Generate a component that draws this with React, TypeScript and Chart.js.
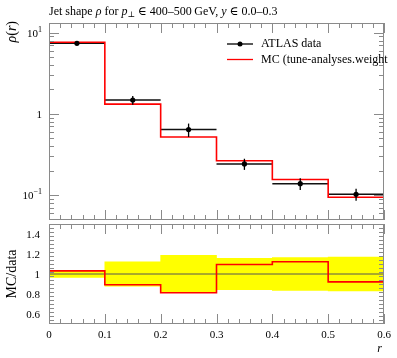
import { useEffect, useRef } from 'react';
import { Chart, registerables } from 'chart.js';

Chart.register(...registerables);

// ---- data ----
const binEdges = [0, 0.1, 0.2, 0.3, 0.4, 0.5, 0.6];
const dataValues = [7.42, 1.48, 0.64, 0.242, 0.138, 0.102];
const dataErrors = [0.26, 0.18, 0.12, 0.038, 0.0225, 0.0173];
const mcValues = [7.65, 1.32, 0.52, 0.265, 0.155, 0.094];
const xTickValues = [0, 0.1, 0.2, 0.3, 0.4, 0.5, 0.6];
const xTickLabels = ['0', '0.1', '0.2', '0.3', '0.4', '0.5', '0.6'];
const mainTickValues = [0.1, 1, 10];
const mainTickBase = ['10', '1', '10'];
const mainTickExp = ['\u22121', '', '1'];
const ratioTickValues = [0.6, 0.8, 1.0, 1.2, 1.4];
const ratioTickLabels = ['0.6', '0.8', '1', '1.2', '1.4'];

const FRAME = '#8a8a8a';
const SERIF = '"Liberation Serif", "DejaVu Serif", serif';
const TICKFONT = `11px ${SERIF}`;

const W = 397;
const PLOT_LEFT = 49;
const PLOT_RIGHT = 384;
const MAIN_TOP = 23;
const SPLIT = 224;
const RATIO_BOTTOM = 324;
const H = 358;

type Seg = { t: string; font: string; dy?: number };

function drawSegs(ctx: CanvasRenderingContext2D, segs: Seg[], x: number, y: number) {
  let cx = x;
  for (const s of segs) {
    ctx.font = s.font;
    ctx.fillText(s.t, cx, y + (s.dy || 0));
    cx += ctx.measureText(s.t).width;
  }
  return cx;
}
function segsWidth(ctx: CanvasRenderingContext2D, segs: Seg[]) {
  let w = 0;
  for (const s of segs) {
    ctx.font = s.font;
    w += ctx.measureText(s.t).width;
  }
  return w;
}

function line(ctx: CanvasRenderingContext2D, x1: number, y1: number, x2: number, y2: number) {
  ctx.beginPath();
  ctx.moveTo(x1, y1);
  ctx.lineTo(x2, y2);
  ctx.stroke();
}

function drawXTicks(chart: any, top: boolean, bottom: boolean) {
  const { ctx, chartArea: a, scales } = chart;
  const xs = scales.x;
  for (let i = 0; i <= 30; i++) {
    const v = i * 0.02;
    const px = Math.round(xs.getPixelForValue(v)) + 0.5;
    const len = i % 5 === 0 ? 10 : 5;
    if (top) line(ctx, px, a.top, px, a.top + len);
    if (bottom) line(ctx, px, a.bottom, px, a.bottom - len);
  }
}

function drawYTick(chart: any, v: number, len: number) {
  const { ctx, chartArea: a, scales } = chart;
  const py = Math.round(scales.y.getPixelForValue(v)) + 0.5;
  if (py < a.top || py > a.bottom) return;
  line(ctx, a.left, py, a.left + len, py);
  line(ctx, a.right, py, a.right - len, py);
}

const mainDecorations = {
  id: 'mainDecorations',
  afterDatasetsDraw(chart: any) {
    const { ctx, chartArea: a, scales } = chart;
    ctx.save();
    // error bars
    ctx.strokeStyle = '#000';
    ctx.lineWidth = 1.3;
    for (let i = 0; i < dataValues.length; i++) {
      const cx = scales.x.getPixelForValue((binEdges[i] + binEdges[i + 1]) / 2);
      line(ctx, cx, scales.y.getPixelForValue(dataValues[i] - dataErrors[i]), cx, scales.y.getPixelForValue(dataValues[i] + dataErrors[i]));
    }
    // frame
    ctx.strokeStyle = FRAME;
    ctx.lineWidth = 1;
    ctx.strokeRect(a.left + 0.5, a.top + 0.5, a.right - a.left - 1, a.bottom - a.top - 1);
    drawXTicks(chart, true, true);
    const decades = [0.01, 0.1, 1, 10];
    for (const d of decades) {
      for (let k = 1; k <= 9; k++) drawYTick(chart, k * d, k === 1 ? 10 : 5);
    }
    // y tick labels
    ctx.fillStyle = '#000';
    ctx.textBaseline = 'middle';
    for (let i = 0; i < mainTickValues.length; i++) {
      const py = scales.y.getPixelForValue(mainTickValues[i]);
      const segs: Seg[] = [{ t: mainTickBase[i], font: TICKFONT }];
      if (mainTickExp[i]) segs.push({ t: mainTickExp[i], font: `8px ${SERIF}`, dy: -4 });
      const w = segsWidth(ctx, segs);
      drawSegs(ctx, segs, 42 - w, py + 1);
    }
    // y axis label rho(r), rotated
    ctx.save();
    ctx.translate(16, 21);
    ctx.rotate(-Math.PI / 2);
    ctx.textBaseline = 'alphabetic';
    const ylab: Seg[] = [
      { t: '\u03C1', font: `italic 14px ${SERIF}` },
      { t: '(', font: `14px ${SERIF}` },
      { t: 'r', font: `italic 14px ${SERIF}` },
      { t: ')', font: `14px ${SERIF}` },
    ];
    const yw = segsWidth(ctx, ylab);
    drawSegs(ctx, ylab, -yw, 0);
    ctx.restore();
    // title
    ctx.textBaseline = 'alphabetic';
    const F = `12px ${SERIF}`;
    const FI = `italic 12px ${SERIF}`;
    drawSegs(ctx, [
      { t: 'Jet shape ', font: F },
      { t: '\u03C1', font: FI },
      { t: ' for ', font: F },
      { t: 'p', font: FI },
      { t: '\u22A5', font: `8px ${SERIF}`, dy: 2 },
      { t: ' \u2208 400\u2013500\u2009GeV, ', font: F },
      { t: 'y', font: FI },
      { t: ' \u2208 0.0\u20130.3', font: F },
    ], 49, 15);
    // legend
    ctx.textBaseline = 'middle';
    ctx.lineWidth = 1.3;
    ctx.strokeStyle = '#000';
    line(ctx, 227, 44, 253, 44);
    ctx.beginPath();
    ctx.arc(240, 44, 2.5, 0, Math.PI * 2);
    ctx.fill();
    ctx.strokeStyle = '#ff0000';
    line(ctx, 227, 59.5, 253, 59.5);
    ctx.font = F;
    ctx.fillText('ATLAS data', 261, 44);
    ctx.fillText('MC (tune-analyses.weight', 261, 59.5);
    ctx.restore();
  },
};

const ratioDecorations = {
  id: 'ratioDecorations',
  afterDatasetsDraw(chart: any) {
    const { ctx, chartArea: a, scales } = chart;
    ctx.save();
    ctx.strokeStyle = FRAME;
    ctx.lineWidth = 1;
    ctx.strokeRect(a.left + 0.5, a.top + 0.5, a.right - a.left - 1, a.bottom - a.top - 1);
    drawXTicks(chart, true, true);
    for (let i = 0; i <= 25; i++) {
      const v = 0.5 + i * 0.04;
      const major = Math.abs(((v - 0.6) / 0.2) - Math.round((v - 0.6) / 0.2)) < 1e-6;
      drawYTick(chart, v, major ? 10 : 5);
    }
    ctx.fillStyle = '#000';
    ctx.font = TICKFONT;
    ctx.textBaseline = 'middle';
    ctx.textAlign = 'right';
    for (let i = 0; i < ratioTickValues.length; i++) {
      ctx.fillText(ratioTickLabels[i], 40, scales.y.getPixelForValue(ratioTickValues[i]) + 1);
    }
    ctx.textAlign = 'center';
    for (let i = 0; i < xTickValues.length; i++) {
      ctx.fillText(xTickLabels[i], scales.x.getPixelForValue(xTickValues[i]), a.bottom + 11);
    }
    ctx.textAlign = 'right';
    ctx.font = `italic 12px ${SERIF}`;
    ctx.fillText('r', a.right - 2, a.bottom + 25);
    // y label
    ctx.save();
    ctx.translate(16, scales.y.getPixelForValue(1.0));
    ctx.rotate(-Math.PI / 2);
    ctx.textAlign = 'center';
    ctx.textBaseline = 'alphabetic';
    ctx.font = `14px ${SERIF}`;
    ctx.fillText('MC/data', 0, 0);
    ctx.restore();
    ctx.restore();
  },
};

function stepPoints(values: number[]) {
  const pts = values.map((v, i) => ({ x: binEdges[i], y: v }));
  pts.push({ x: binEdges[binEdges.length - 1], y: values[values.length - 1] });
  return pts;
}

function dataBarPoints() {
  const pts: any[] = [];
  dataValues.forEach((v, i) => {
    pts.push({ x: binEdges[i], y: v });
    pts.push({ x: binEdges[i + 1], y: v });
    pts.push({ x: binEdges[i + 1], y: NaN });
  });
  return pts;
}

export default function App() {
  const mainRef = useRef<HTMLCanvasElement>(null);
  const ratioRef = useRef<HTMLCanvasElement>(null);

  useEffect(() => {
    document.body.style.margin = '0';
    const ratios = mcValues.map((m, i) => m / dataValues[i]);
    const relErr = dataErrors.map((e, i) => e / dataValues[i]);

    const mainChart = new Chart(mainRef.current!, {
      type: 'line',
      data: {
        datasets: [
          {
            label: 'points',
            data: dataValues.map((v, i) => ({ x: (binEdges[i] + binEdges[i + 1]) / 2, y: v })),
            showLine: false,
            pointRadius: 2.6,
            pointBackgroundColor: '#000',
            pointBorderWidth: 0,
            order: 0,
          },
          {
            label: 'MC',
            data: stepPoints(mcValues),
            stepped: 'before',
            borderColor: '#ff0000',
            borderWidth: 1.6,
            pointRadius: 0,
            fill: false,
            order: 1,
          },
          {
            label: 'data',
            data: dataBarPoints(),
            borderColor: '#111',
            borderWidth: 1.5,
            pointRadius: 0,
            spanGaps: false,
            fill: false,
            order: 2,
          },
        ],
      },
      options: {
        responsive: false,
        animation: false,
        events: [],
        layout: { padding: { left: PLOT_LEFT, right: W - PLOT_RIGHT, top: MAIN_TOP, bottom: 0 } },
        plugins: { legend: { display: false }, tooltip: { enabled: false } },
        scales: {
          x: { type: 'linear', min: 0, max: 0.6, display: false },
          y: { type: 'logarithmic', min: 0.0492, max: 13.2, display: false },
        },
      },
      plugins: [mainDecorations],
    });

    const ratioChart = new Chart(ratioRef.current!, {
      type: 'line',
      data: {
        datasets: [
          {
            label: 'MC/data',
            data: stepPoints(ratios),
            stepped: 'before',
            borderColor: '#ff0000',
            borderWidth: 1.6,
            pointRadius: 0,
            fill: false,
            order: 0,
          },
          {
            label: 'ref',
            data: [{ x: 0, y: 1 }, { x: 0.6, y: 1 }],
            borderColor: '#555',
            borderWidth: 1,
            pointRadius: 0,
            fill: false,
            order: 1,
          },
          {
            type: 'bar',
            label: 'band',
            data: relErr.map((r, i) => ({ x: (binEdges[i] + binEdges[i + 1]) / 2, y: [1 - r, 1 + r] })),
            backgroundColor: '#ffff00',
            borderWidth: 0,
            barPercentage: 1,
            categoryPercentage: 1,
            order: 2,
          } as any,
        ],
      },
      options: {
        responsive: false,
        animation: false,
        events: [],
        layout: { padding: { left: PLOT_LEFT, right: W - PLOT_RIGHT, top: 1, bottom: H - RATIO_BOTTOM } },
        plugins: { legend: { display: false }, tooltip: { enabled: false } },
        scales: {
          x: { type: 'linear', min: 0, max: 0.6, offset: false, display: false },
          y: { type: 'linear', min: 0.5, max: 1.5, display: false },
        },
      },
      plugins: [ratioDecorations],
    });

    return () => {
      mainChart.destroy();
      ratioChart.destroy();
    };
  }, []);

  return (
    <div style={{ position: 'relative', width: W, height: H, background: '#fff' }}>
      <canvas ref={mainRef} width={W} height={SPLIT} style={{ position: 'absolute', left: 0, top: 0 }} />
      <canvas ref={ratioRef} width={W} height={H - SPLIT + 1} style={{ position: 'absolute', left: 0, top: SPLIT - 1 }} />
    </div>
  );
}
